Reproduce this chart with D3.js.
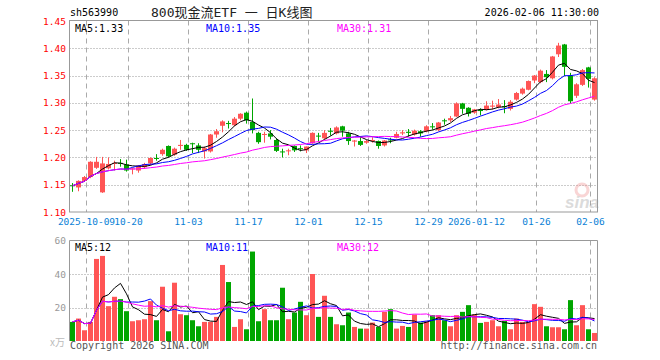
<!DOCTYPE html>
<html>
<head>
<meta charset="utf-8">
<script src="https://cdn.jsdelivr.net/npm/d3@7"></script>
<style>
body { margin:0; background:#fff; }
svg { display:block; }
</style>
</head>
<body>
<svg></svg>
<script>
var screen = {width:660, height:360};
var kPanel = {left:69.5, right:597.5, top:20.5, bottom:212};
var vPanel = {top:240.5, bottom:341};
var mono = "'DejaVu Sans Mono', 'Liberation Mono', monospace";

var dates = [
 "2025-09-26","2025-09-29","2025-09-30",
 "2025-10-09","2025-10-10","2025-10-13","2025-10-14","2025-10-15","2025-10-16","2025-10-17","2025-10-20",
 "2025-10-21","2025-10-22","2025-10-23","2025-10-24","2025-10-27","2025-10-28","2025-10-29","2025-10-30","2025-10-31",
 "2025-11-03","2025-11-04","2025-11-05","2025-11-06","2025-11-07","2025-11-10","2025-11-11","2025-11-12","2025-11-13","2025-11-14",
 "2025-11-17","2025-11-18","2025-11-19","2025-11-20","2025-11-21","2025-11-24","2025-11-25","2025-11-26","2025-11-27","2025-11-28",
 "2025-12-01","2025-12-02","2025-12-03","2025-12-04","2025-12-05","2025-12-08","2025-12-09","2025-12-10","2025-12-11","2025-12-12",
 "2025-12-15","2025-12-16","2025-12-17","2025-12-18","2025-12-19","2025-12-22","2025-12-23","2025-12-24","2025-12-25","2025-12-26",
 "2025-12-29","2025-12-30","2025-12-31",
 "2026-01-05","2026-01-06","2026-01-07","2026-01-08","2026-01-09","2026-01-12","2026-01-13","2026-01-14","2026-01-15","2026-01-16",
 "2026-01-19","2026-01-20","2026-01-21","2026-01-22","2026-01-23","2026-01-26","2026-01-27","2026-01-28","2026-01-29","2026-01-30",
 "2026-02-02","2026-02-03","2026-02-04","2026-02-05","2026-02-06"
];

var opens = [
 1.149,1.145,1.157,1.164,1.181,1.136,1.180,1.188,1.190,1.187,
 1.179,1.176,1.182,1.189,1.199,1.206,1.221,1.205,1.221,1.223,
 1.226,1.222,1.211,1.211,1.242,1.258,1.263,1.259,1.271,1.282,
 1.265,1.245,1.242,1.244,1.232,1.211,1.212,1.221,1.217,1.213,
 1.226,1.240,1.235,1.249,1.244,1.257,1.244,1.229,1.230,1.227,
 1.231,1.230,1.222,1.233,1.236,1.244,1.247,1.242,1.248,1.248,
 1.257,1.250,1.268,1.268,1.275,1.299,1.291,1.282,1.287,1.287,
 1.293,1.292,1.294,1.289,1.306,1.317,1.324,1.341,1.338,1.353,
 1.345,1.389,1.407,1.350,1.313,1.333,1.365,1.306
];
var highs = [
 1.153,1.158,1.166,1.193,1.201,1.201,1.200,1.194,1.197,1.196,
 1.181,1.186,1.190,1.200,1.206,1.216,1.222,1.218,1.232,1.225,
 1.227,1.226,1.220,1.243,1.252,1.268,1.267,1.274,1.281,1.284,
 1.308,1.247,1.247,1.250,1.235,1.216,1.216,1.222,1.222,1.220,
 1.246,1.245,1.250,1.254,1.257,1.258,1.247,1.232,1.238,1.232,
 1.237,1.231,1.232,1.236,1.247,1.250,1.252,1.251,1.250,1.259,
 1.263,1.265,1.271,1.276,1.301,1.300,1.292,1.289,1.290,1.303,
 1.304,1.307,1.305,1.305,1.320,1.328,1.341,1.351,1.361,1.360,
 1.386,1.410,1.408,1.355,1.336,1.362,1.366,1.347
];
var lows = [
 1.137,1.138,1.155,1.162,1.179,1.135,1.178,1.176,1.183,1.174,
 1.169,1.172,1.179,1.186,1.194,1.203,1.200,1.203,1.214,1.212,
 1.208,1.208,1.198,1.209,1.236,1.246,1.253,1.257,1.268,1.262,
 1.244,1.225,1.227,1.233,1.210,1.200,1.204,1.210,1.211,1.208,
 1.225,1.229,1.233,1.240,1.242,1.238,1.223,1.220,1.221,1.225,
 1.227,1.216,1.220,1.226,1.235,1.241,1.238,1.240,1.238,1.246,
 1.251,1.248,1.260,1.265,1.274,1.280,1.275,1.280,1.277,1.286,
 1.288,1.290,1.281,1.286,1.304,1.315,1.323,1.336,1.336,1.338,
 1.343,1.384,1.349,1.299,1.309,1.331,1.328,1.304
];
var closes = [
 1.148,1.157,1.164,1.192,1.192,1.189,1.188,1.190,1.189,1.176,
 1.180,1.185,1.188,1.199,1.198,1.214,1.202,1.216,1.223,1.214,
 1.225,1.214,1.217,1.242,1.248,1.266,1.262,1.271,1.280,1.268,
 1.250,1.228,1.243,1.238,1.212,1.210,1.213,1.213,1.216,1.220,
 1.245,1.239,1.245,1.247,1.255,1.249,1.230,1.231,1.223,1.230,
 1.232,1.221,1.231,1.232,1.243,1.246,1.245,1.249,1.244,1.257,
 1.256,1.264,1.267,1.272,1.299,1.289,1.280,1.288,1.285,1.295,
 1.295,1.297,1.292,1.302,1.318,1.326,1.340,1.350,1.359,1.347,
 1.385,1.405,1.366,1.303,1.334,1.360,1.344,1.345
];
// volume, unit: 万手
var volumes = [
 11.4,13.4,6.4,11.4,49.0,50.8,20.8,26.4,25.0,17.8,
 11.8,12.4,13.0,23.8,12.4,32.4,5.8,34.8,16.0,15.4,
 12.4,8.8,11.4,11.4,14.4,45.4,35.2,8.4,13.0,7.0,
 53.4,11.8,19.0,12.4,12.4,31.8,13.0,17.0,23.4,15.4,
 40.0,14.4,27.0,14.4,10.0,9.4,17.0,8.4,7.4,7.4,
 11.0,8.4,17.4,19.0,7.4,9.0,8.4,15.8,11.0,11.8,
 15.4,15.4,12.4,8.8,15.4,17.4,21.4,15.8,10.8,11.4,
 12.4,8.8,12.0,7.0,13.4,11.4,11.4,22.0,20.4,8.8,
 8.2,8.2,7.0,24.4,9.4,21.4,7.0,4.8
];

var priceTicks = [1.45,1.40,1.35,1.30,1.25,1.20,1.15,1.10];
var volTicks = [60,40,20];
var tickDates = ["2025-10-09","2025-10-20","2025-11-03","2025-11-17","2025-12-01","2025-12-15","2025-12-29","2026-01-12","2026-01-26","2026-02-06"];
var tickLabels = ["2025-10-09","10-20","11-03","11-17","12-01","12-15","12-29","2026-01-12","01-26","02-06"];
var maDays = [5,10,30];
var maColors = ["#000000","#0000ff","#ff00ff"];
var priceLegend = ["MA5:1.33","MA10:1.35","MA30:1.31"];
var volLegend = ["MA5:12","MA10:11","MA30:12"];
var legendX = [75, 206, 337];

var upColor = "#ff5555", downColor = "#00a600";

var movingAvg = function(vals, n)
{
    return vals.map(function(v, i){
        return d3.mean(vals.slice(Math.max(0, i - n + 1), i + 1));
    });
}

var setup = function()
{
    var svg = d3.select("svg")
        .attr("width", screen.width)
        .attr("height", screen.height)
        .style("font-family", mono);

    var xScale = d3.scaleBand().domain(dates)
        .range([kPanel.left, kPanel.right])
        .paddingInner(1/6).paddingOuter(1/12);
    var yScale = d3.scaleLinear().domain([1.10, 1.45]).range([kPanel.bottom, kPanel.top + 0.5]);
    var vScale = d3.scaleLinear().domain([0, 60]).range([vPanel.bottom, vPanel.top]);

    var cx = function(d){ return Math.round(xScale(d)) + 2.5; };

    // header
    svg.append("text").attr("x", 70).attr("y", 16).attr("font-size", 10).attr("fill", "#000").text("sh563990");
    svg.append("text").attr("x", 151).attr("y", 17).attr("font-size", 13).attr("fill", "#222")
        .style("font-family", "'DejaVu Sans Mono', 'Noto Sans CJK SC', monospace")
        .text("800现金流ETF 一 日K线图");
    svg.append("text").attr("x", 599).attr("y", 16).attr("font-size", 10).attr("text-anchor", "end")
        .attr("fill", "#000").text("2026-02-06 11:30:00");

    drawGrid(svg, xScale, yScale, vScale);
    drawCandles(svg, xScale, yScale, cx);
    drawVolume(svg, xScale, vScale, cx);

    // legends
    svg.selectAll(".klegend").data(priceLegend).enter().append("text")
        .attr("x", function(d, i){ return legendX[i]; }).attr("y", 32)
        .attr("font-size", 10).attr("fill", function(d, i){ return maColors[i]; })
        .text(function(d){ return d; });
    svg.selectAll(".vlegend").data(volLegend).enter().append("text")
        .attr("x", function(d, i){ return legendX[i]; }).attr("y", 251)
        .attr("font-size", 10).attr("fill", function(d, i){ return maColors[i]; })
        .text(function(d){ return d; });

    // footer
    svg.append("text").attr("x", 50).attr("y", 346).attr("font-size", 10).attr("fill", "#bbb")
        .style("font-family", "'Noto Sans CJK SC', sans-serif").text("x万");
    svg.append("text").attr("x", 70).attr("y", 349).attr("font-size", 10).attr("fill", "#555")
        .text("Copyright 2026 SINA.COM");
    svg.append("text").attr("x", 597).attr("y", 349).attr("font-size", 10).attr("fill", "#555")
        .attr("text-anchor", "end").text("http://finance.sina.com.cn");

    // watermark
    var wm = svg.append("g").attr("opacity", 0.35);
    wm.append("circle").attr("cx", 582).attr("cy", 190).attr("r", 6)
        .attr("fill", "none").attr("stroke", "#e88").attr("stroke-width", 3);
    wm.append("text").attr("x", 565).attr("y", 208).attr("font-size", 17)
        .attr("font-weight", "bold").attr("font-style", "italic").attr("fill", "#999")
        .style("font-family", "'Liberation Sans', sans-serif").text("sina");
}

var drawGrid = function(svg, xScale, yScale, vScale)
{
    var g = svg.append("g");

    // horizontal dotted lines
    g.selectAll(".hk").data(priceTicks.slice(1, -1)).enter().append("line")
        .attr("x1", kPanel.left).attr("x2", kPanel.right)
        .attr("y1", function(d){ return Math.round(yScale(d)) + 0.5; })
        .attr("y2", function(d){ return Math.round(yScale(d)) + 0.5; })
        .attr("stroke", "#999").attr("stroke-dasharray", "1,2");
    g.selectAll(".hv").data(volTicks.slice(1)).enter().append("line")
        .attr("x1", kPanel.left).attr("x2", kPanel.right)
        .attr("y1", function(d){ return Math.round(vScale(d)) + 0.5; })
        .attr("y2", function(d){ return Math.round(vScale(d)) + 0.5; })
        .attr("stroke", "#999").attr("stroke-dasharray", "1,2");

    // vertical dashed lines
    var vx = function(d){ return Math.round(xScale(d)) - 1.5; };
    g.selectAll(".vk").data(tickDates).enter().append("line")
        .attr("x1", vx).attr("x2", vx)
        .attr("y1", kPanel.top).attr("y2", kPanel.bottom)
        .attr("stroke", "#aaa").attr("stroke-dasharray", "5,4");
    g.selectAll(".vv").data(tickDates).enter().append("line")
        .attr("x1", vx).attr("x2", vx)
        .attr("y1", vPanel.top).attr("y2", vPanel.bottom)
        .attr("stroke", "#aaa").attr("stroke-dasharray", "5,4");

    // borders
    g.append("rect").attr("x", kPanel.left).attr("y", kPanel.top)
        .attr("width", kPanel.right - kPanel.left).attr("height", kPanel.bottom - kPanel.top)
        .attr("fill", "none").attr("stroke", "#999");
    g.append("path")
        .attr("d", "M" + kPanel.left + "," + vPanel.bottom + "V" + vPanel.top + "H" + kPanel.right + "V" + vPanel.bottom)
        .attr("fill", "none").attr("stroke", "#999");

    // price labels
    g.selectAll(".pl").data(priceTicks).enter().append("text")
        .attr("x", 66).attr("y", function(d){ return yScale(d) + 3.5; })
        .attr("text-anchor", "end").attr("font-size", 9.5).attr("fill", "#ff0000")
        .text(function(d){ return d3.format(".2f")(d); });
    g.selectAll(".vl").data(volTicks).enter().append("text")
        .attr("x", 66).attr("y", function(d){ return vScale(d) + 3.5; })
        .attr("text-anchor", "end").attr("font-size", 9.5).attr("fill", "#999")
        .text(function(d){ return d; });

    // date labels
    g.selectAll(".dl").data(tickDates).enter().append("text")
        .attr("x", function(d){ return Math.round(xScale(d)) - 1.5; }).attr("y", 225)
        .attr("text-anchor", "middle").attr("font-size", 9.5).attr("fill", "#0a7fd6")
        .text(function(d, i){ return tickLabels[i]; });
}

var drawCandles = function(svg, xScale, yScale, cx)
{
    var g = svg.append("g");
    var color = function(i){ return closes[i] >= opens[i] ? upColor : downColor; };

    g.selectAll(".wick").data(dates).enter().append("line")
        .attr("x1", cx).attr("x2", cx)
        .attr("y1", function(d, i){ return yScale(highs[i]); })
        .attr("y2", function(d, i){ return yScale(lows[i]); })
        .attr("stroke", function(d, i){ return color(i); });

    g.selectAll(".body").data(dates).enter().append("rect")
        .attr("x", function(d){ return Math.round(xScale(d)); })
        .attr("width", 5)
        .attr("y", function(d, i){ return yScale(Math.max(opens[i], closes[i])); })
        .attr("height", function(d, i){ return Math.max(1, Math.abs(yScale(opens[i]) - yScale(closes[i]))); })
        .attr("fill", function(d, i){ return color(i); });

    maDays.forEach(function(n, k){
        var ma = movingAvg(closes, n);
        var line = d3.line().x(function(d, i){ return cx(dates[i]); }).y(function(d){ return yScale(d); });
        g.append("path").datum(ma).attr("d", line)
            .attr("fill", "none").attr("stroke", maColors[k]).attr("stroke-width", 1);
    });
}

var drawVolume = function(svg, xScale, vScale, cx)
{
    var g = svg.append("g");
    g.selectAll(".vbar").data(dates).enter().append("rect")
        .attr("x", function(d){ return Math.round(xScale(d)); })
        .attr("width", 5)
        .attr("y", function(d, i){ return vScale(volumes[i]); })
        .attr("height", function(d, i){ return vScale(0) - vScale(volumes[i]); })
        .attr("fill", function(d, i){ return closes[i] >= opens[i] ? upColor : downColor; });

    maDays.forEach(function(n, k){
        var ma = movingAvg(volumes, n);
        var line = d3.line().x(function(d, i){ return cx(dates[i]); }).y(function(d){ return vScale(d); });
        g.append("path").datum(ma).attr("d", line)
            .attr("fill", "none").attr("stroke", maColors[k]).attr("stroke-width", 1);
    });
}

setup();
</script>
</body>
</html>
